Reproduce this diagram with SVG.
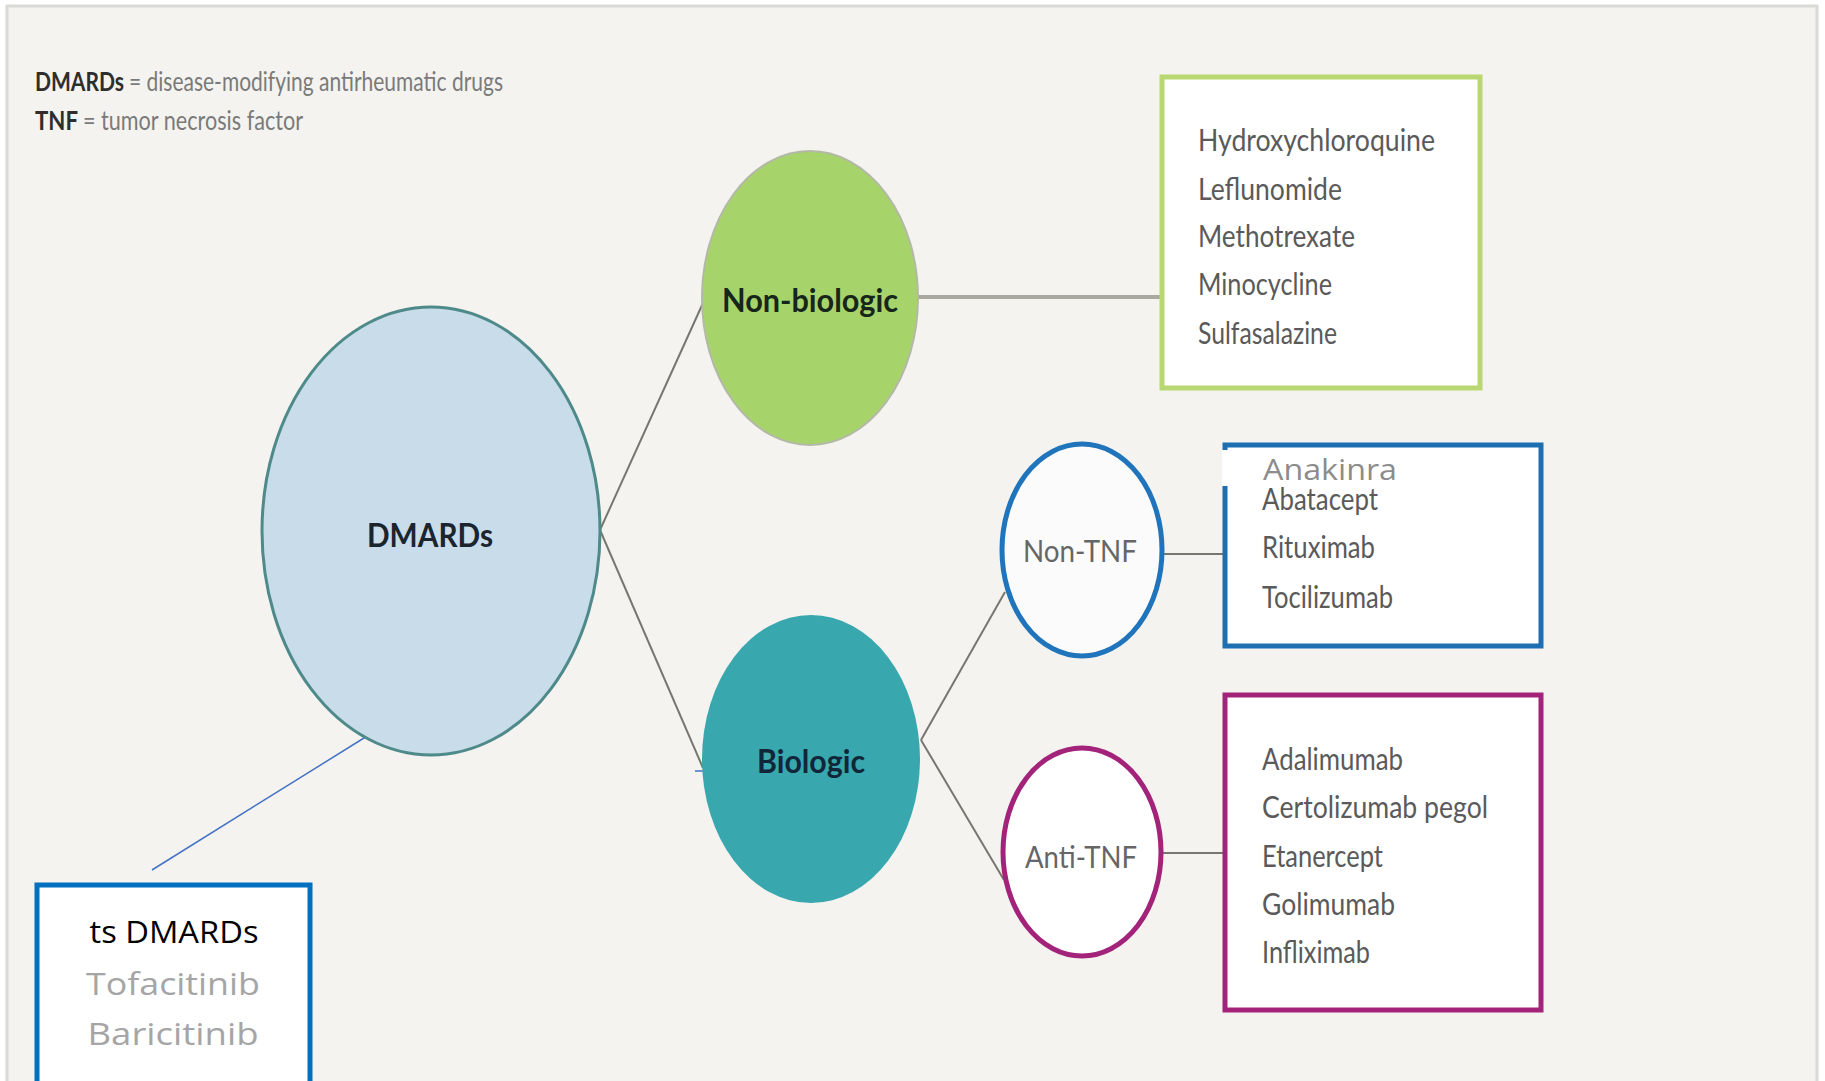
<svg xmlns="http://www.w3.org/2000/svg" width="1825" height="1081" viewBox="0 0 1825 1081">
  <style>
    .legend-key { font-family: Lato, "Liberation Sans", sans-serif; font-weight: bold; font-size: 26px; fill: #2e2e2e; }
    .legend-val { font-family: Lato, "Liberation Sans", sans-serif; font-size: 26px; fill: #7a7a7a; }
    .node-bold { font-family: Lato, "Liberation Sans", sans-serif; font-weight: bold; font-size: 33px; text-anchor: middle; }
    .node-light { font-family: Lato, "Liberation Sans", sans-serif; font-size: 30px; fill: #666; text-anchor: middle; }
    .drug { font-family: Lato, "Liberation Sans", sans-serif; font-size: 30px; fill: #5a5a5a; }
    .ts { font-family: "Open Sans", "Liberation Sans", sans-serif; font-size: 31px; text-anchor: middle; }
    .link { stroke: #77776f; stroke-width: 2; fill: none; }
    .callout { stroke: #4472c4; stroke-width: 1.5; fill: none; }
  </style>

  <!-- page and frame -->
  <rect x="0" y="0" width="1825" height="1081" fill="#ffffff"/>
  <rect x="7" y="6" width="1810" height="1090" fill="#f4f3ef" stroke="#d9d9d5" stroke-width="3"/>

  <!-- legend -->
  <g id="legend">
    <text class="legend-key" x="35" y="91" textLength="89" lengthAdjust="spacingAndGlyphs">DMARDs</text>
    <text class="legend-val" x="129" y="91" textLength="374" lengthAdjust="spacingAndGlyphs">= disease-modifying antirheumatic drugs</text>
    <text class="legend-key" x="35" y="130" textLength="43" lengthAdjust="spacingAndGlyphs">TNF</text>
    <text class="legend-val" x="83" y="130" textLength="220" lengthAdjust="spacingAndGlyphs">= tumor necrosis factor</text>
  </g>

  <!-- connectors -->
  <g id="connectors">
    <line class="link" x1="600" y1="530" x2="703" y2="303"/>
    <line class="link" x1="600" y1="530" x2="703" y2="768"/>
    <line x1="918" y1="297" x2="1162" y2="297" stroke="#a9a9a1" stroke-width="4"/>
    <line class="link" x1="921" y1="740" x2="1005" y2="592"/>
    <line class="link" x1="921" y1="740" x2="1004" y2="880"/>
    <line class="link" x1="1163" y1="554" x2="1225" y2="554"/>
    <line class="link" x1="1161" y1="853" x2="1225" y2="853"/>
    <line class="callout" x1="152" y1="870" x2="372" y2="733"/>
    <line class="callout" x1="695" y1="771" x2="710" y2="771"/>
  </g>

  <!-- DMARDs root -->
  <g id="node-dmards">
    <ellipse cx="431" cy="531" rx="169" ry="224" fill="#c8dce9" stroke="#4f8a8b" stroke-width="3"/>
    <text class="node-bold" x="430" y="547" fill="#1b2530" textLength="126" lengthAdjust="spacingAndGlyphs">DMARDs</text>
  </g>

  <!-- Non-biologic -->
  <g id="node-nonbiologic">
    <ellipse cx="810" cy="298" rx="108" ry="147" fill="#a7d46a" stroke="#b3b9a6" stroke-width="2"/>
    <text class="node-bold" x="810" y="312" fill="#17261a" textLength="176" lengthAdjust="spacingAndGlyphs">Non-biologic</text>
  </g>

  <!-- Biologic -->
  <g id="node-biologic">
    <ellipse cx="811" cy="759" rx="109" ry="144" fill="#38a7ae"/>
    <text class="node-bold" x="811" y="773" fill="#12263a" textLength="108" lengthAdjust="spacingAndGlyphs">Biologic</text>
  </g>

  <!-- Non-TNF -->
  <g id="node-nontnf">
    <ellipse cx="1082" cy="550" rx="80" ry="106" fill="#fbfbfb" stroke="#1f74bb" stroke-width="5"/>
    <text class="node-light" x="1080" y="562" textLength="114" lengthAdjust="spacingAndGlyphs">Non-TNF</text>
  </g>

  <!-- Anti-TNF -->
  <g id="node-antitnf">
    <ellipse cx="1082" cy="852" rx="79" ry="104" fill="#ffffff" stroke="#a3237a" stroke-width="5"/>
    <text class="node-light" x="1081" y="868" textLength="112" lengthAdjust="spacingAndGlyphs">Anti-TNF</text>
  </g>

  <!-- Non-biologic drug list -->
  <g id="box-nonbiologic">
    <rect x="1162" y="77" width="318" height="311" fill="#ffffff" stroke="#b9d873" stroke-width="5"/>
    <text class="drug" x="1198" y="151" textLength="237" lengthAdjust="spacingAndGlyphs">Hydroxychloroquine</text>
    <text class="drug" x="1198" y="200" textLength="144" lengthAdjust="spacingAndGlyphs">Leflunomide</text>
    <text class="drug" x="1198" y="247" textLength="157" lengthAdjust="spacingAndGlyphs">Methotrexate</text>
    <text class="drug" x="1198" y="295" textLength="134" lengthAdjust="spacingAndGlyphs">Minocycline</text>
    <text class="drug" x="1198" y="344" textLength="139" lengthAdjust="spacingAndGlyphs">Sulfasalazine</text>
  </g>

  <!-- Non-TNF drug list -->
  <g id="box-nontnf">
    <rect x="1225" y="445" width="316" height="201" fill="#ffffff" stroke="#1d6fb2" stroke-width="5"/>
    <text class="drug" x="1262" y="510" textLength="116" lengthAdjust="spacingAndGlyphs">Abatacept</text>
    <text class="drug" x="1262" y="558" textLength="113" lengthAdjust="spacingAndGlyphs">Rituximab</text>
    <text class="drug" x="1262" y="608" textLength="131" lengthAdjust="spacingAndGlyphs">Tocilizumab</text>
    <rect x="1222" y="450" width="216" height="36" fill="#ffffff"/>
    <text x="1263" y="480" font-family="'Open Sans', 'Liberation Sans', sans-serif" font-size="30" fill="#8c8c8c" textLength="134" lengthAdjust="spacingAndGlyphs">Anakinra</text>
  </g>

  <!-- Anti-TNF drug list -->
  <g id="box-antitnf">
    <rect x="1225" y="695" width="316" height="315" fill="#ffffff" stroke="#a3237a" stroke-width="5"/>
    <text class="drug" x="1262" y="770" textLength="141" lengthAdjust="spacingAndGlyphs">Adalimumab</text>
    <text class="drug" x="1262" y="818" textLength="226" lengthAdjust="spacingAndGlyphs">Certolizumab pegol</text>
    <text class="drug" x="1262" y="867" textLength="121" lengthAdjust="spacingAndGlyphs">Etanercept</text>
    <text class="drug" x="1262" y="915" textLength="133" lengthAdjust="spacingAndGlyphs">Golimumab</text>
    <text class="drug" x="1262" y="963" textLength="108" lengthAdjust="spacingAndGlyphs">Infliximab</text>
  </g>

  <!-- targeted synthetic DMARDs -->
  <g id="box-tsdmards">
    <rect x="37" y="885" width="273" height="215" fill="#ffffff" stroke="#0070c0" stroke-width="5"/>
    <text class="ts" x="174" y="943" fill="#000000" textLength="169" lengthAdjust="spacingAndGlyphs">ts DMARDs</text>
    <text class="ts" x="173" y="995" fill="#a5a5a5" textLength="174" lengthAdjust="spacingAndGlyphs">Tofacitinib</text>
    <text class="ts" x="173" y="1045" fill="#a5a5a5" textLength="171" lengthAdjust="spacingAndGlyphs">Baricitinib</text>
  </g>
</svg>
